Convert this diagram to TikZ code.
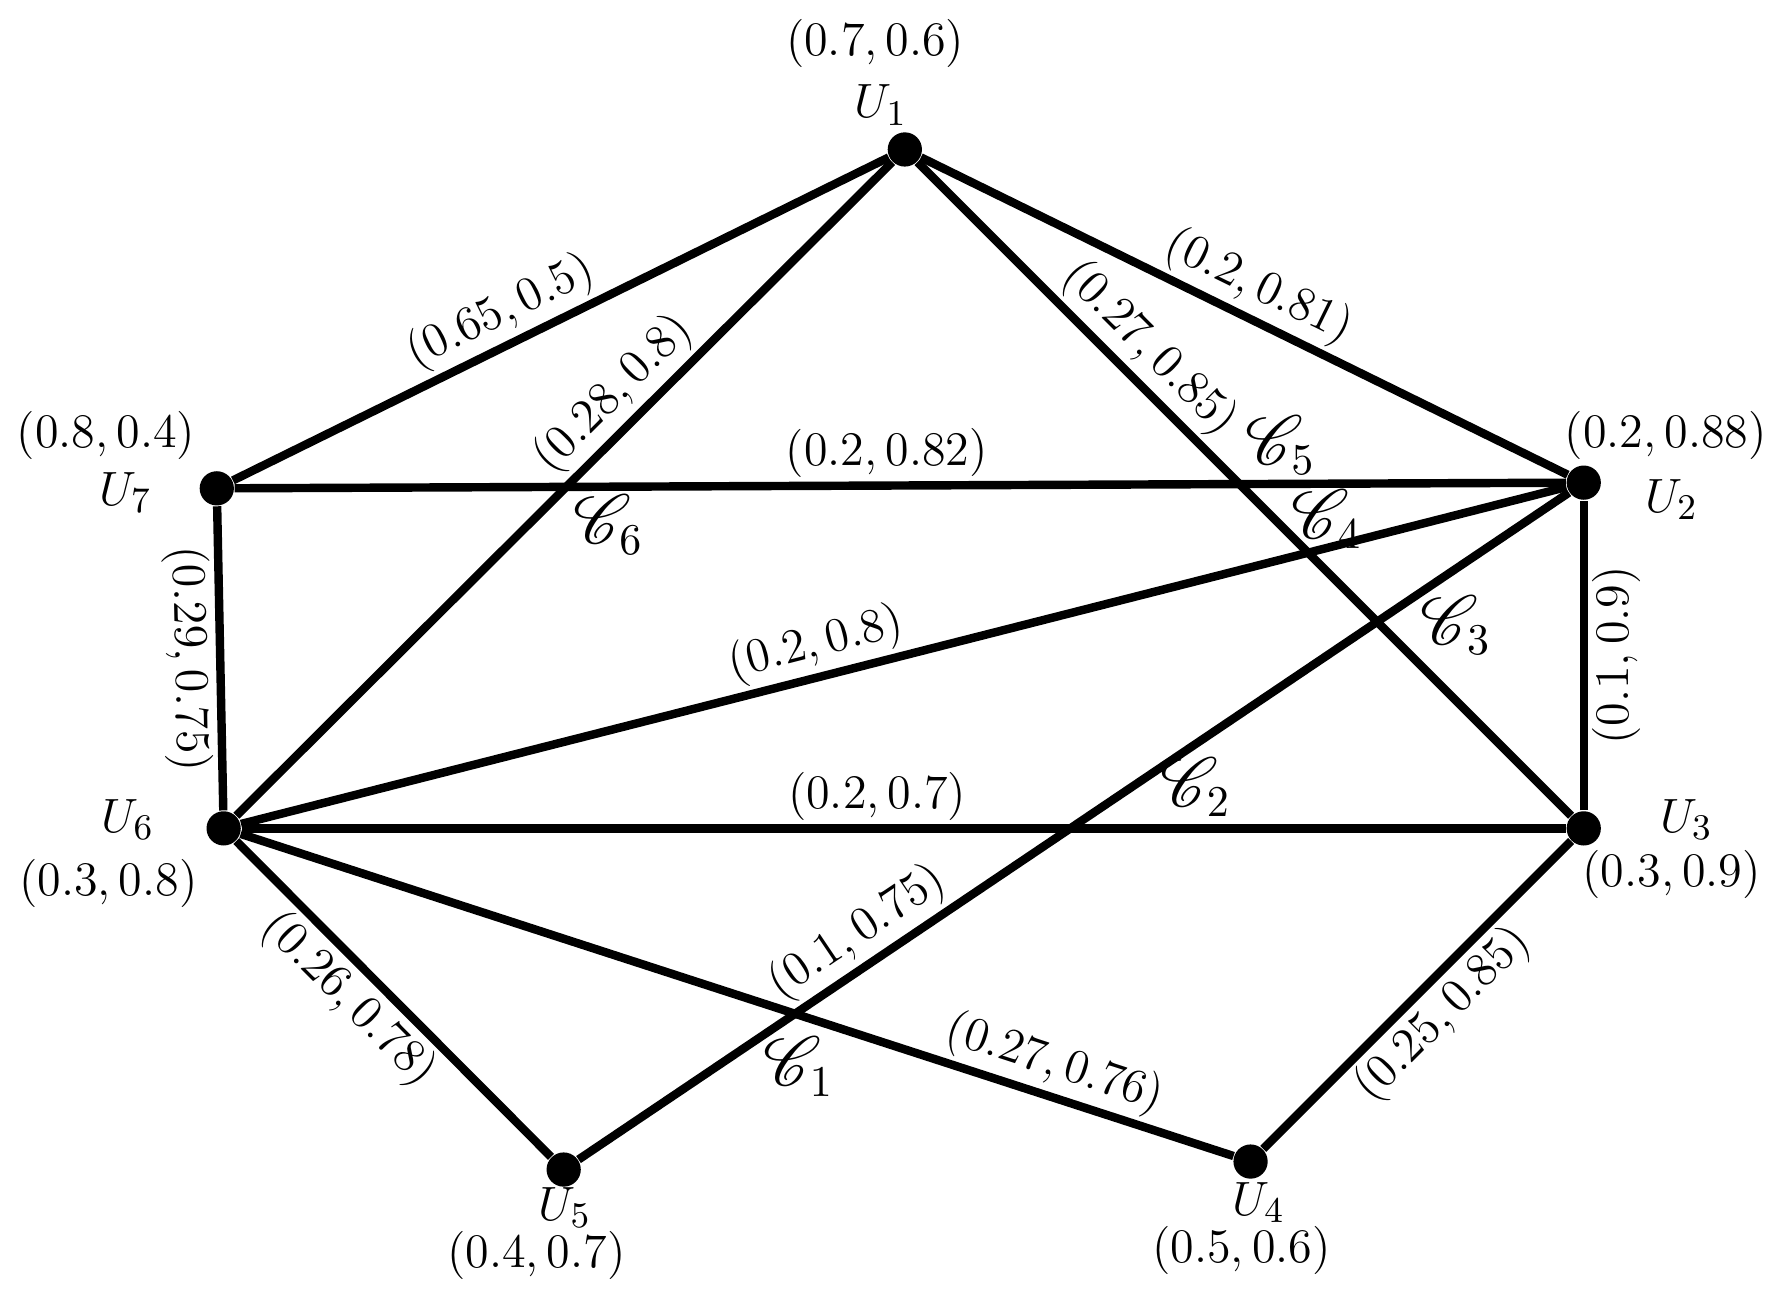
\documentclass[tikz,border=0pt]{standalone}
\usepackage{amsmath}
\usepackage{mathrsfs}
\usepackage{tikz}
\usetikzlibrary{calc,positioning}

\begin{document}
\begin{tikzpicture}[x=0.01cm,y=-0.01cm,
  vertex/.style={circle,fill=black,inner sep=0pt,minimum size=0.3cm},
  edge/.style={line width=2.1pt},
  lbl/.style={font=\fontsize{13}{15}\selectfont,inner sep=2pt},
  clbl/.style={font=\fontsize{16}{18}\selectfont,inner sep=1pt},
  elbl/.style={lbl,sloped,inner sep=1pt}]

  \useasboundingbox (0,0) rectangle (1560,1131);

  % Vertices
  \node[vertex] (U1) at (793,131) {};
  \node[vertex] (U2) at (1388,423) {};
  \node[vertex] (U3) at (1388,726) {};
  \node[vertex] (U4) at (1096,1018) {};
  \node[vertex] (U5) at (494,1025) {};
  \node[vertex] (U6) at (196,726) {};
  \node[vertex] (U7) at (190,428) {};

  % Vertex names and values
  \node[lbl] (n1) at (772,92) {$U_1$};
  \node[lbl] (v1) at (767,38) {$(0.7,0.6)$};
  \node[lbl] (n2) at (1465,438) {$U_2$};
  \node[lbl] (v2) at (1460,382) {$(0.2,0.88)$};
  \node[lbl] (n3) at (1478,718) {$U_3$};
  \node[lbl] (v3) at (1465,766) {$(0.3,0.9)$};
  \node[lbl] (n4) at (1103,1054) {$U_4$};
  \node[lbl] (v4) at (1088,1096) {$(0.5,0.6)$};
  \node[lbl] (n5) at (495,1058) {$U_5$};
  \node[lbl] (v5) at (470,1100) {$(0.4,0.7)$};
  \node[lbl] (n6) at (112,718) {$U_6$};
  \node[lbl] (v6) at (95,774) {$(0.3,0.8)$};
  \node[lbl] (n7) at (110,432) {$U_7$};
  \node[lbl] (v7) at (93,382) {$(0.8,0.4)$};

  % Edges
  \draw[edge] (U7) -- node[elbl,pos=0.43,above] {$(0.65,0.5)$} (U1);
  \draw[edge] (U6) -- node[elbl,pos=0.61,above] {$(0.28,0.8)$} (U1);
  \draw[edge] (U1) -- node[elbl,pos=0.32,above] {$(0.27,0.85)$} (U3);
  \draw[edge] (U1) -- node[elbl,pos=0.5,above] {$(0.2,0.81)$} (U2);
  \draw[edge] (U7) -- node[elbl,pos=0.49,above] {$(0.2,0.82)$} (U2);
  \draw[edge] (U7) -- node[elbl,pos=0.5,below] {$(0.29,0.75)$} (U6);
  \draw[edge] (U3) -- node[elbl,pos=0.5,below] {$(0.1,0.9)$} (U2);
  \draw[edge] (U6) -- node[elbl,pos=0.44,above] {$(0.2,0.8)$} (U2);
  \draw[edge] (U6) -- node[elbl,pos=0.48,above] {$(0.2,0.7)$} (U3);
  \draw[edge] (U5) -- node[elbl,pos=0.3,above] {$(0.1,0.75)$} (U2);
  \draw[edge] (U6) -- node[elbl,pos=0.43,below] {$(0.26,0.78)$} (U5);
  \draw[edge] (U6) -- node[elbl,pos=0.81,above] {$(0.27,0.76)$} (U4);
  \draw[edge] (U4) -- node[elbl,pos=0.51,below] {$(0.25,0.85)$} (U3);

  % Cycles
  \node[clbl] (c1) at (700,935) {$\mathscr{C}_1$};
  \node[clbl] (c2) at (1048,690) {$\mathscr{C}_2$};
  \node[clbl] (c3) at (1276,548) {$\mathscr{C}_3$};
  \node[clbl] (c4) at (1163,455) {$\mathscr{C}_4$};
  \node[clbl] (c5) at (1122,390) {$\mathscr{C}_5$};
  \node[clbl] (c6) at (533,460) {$\mathscr{C}_6$};

\end{tikzpicture}
\end{document}
